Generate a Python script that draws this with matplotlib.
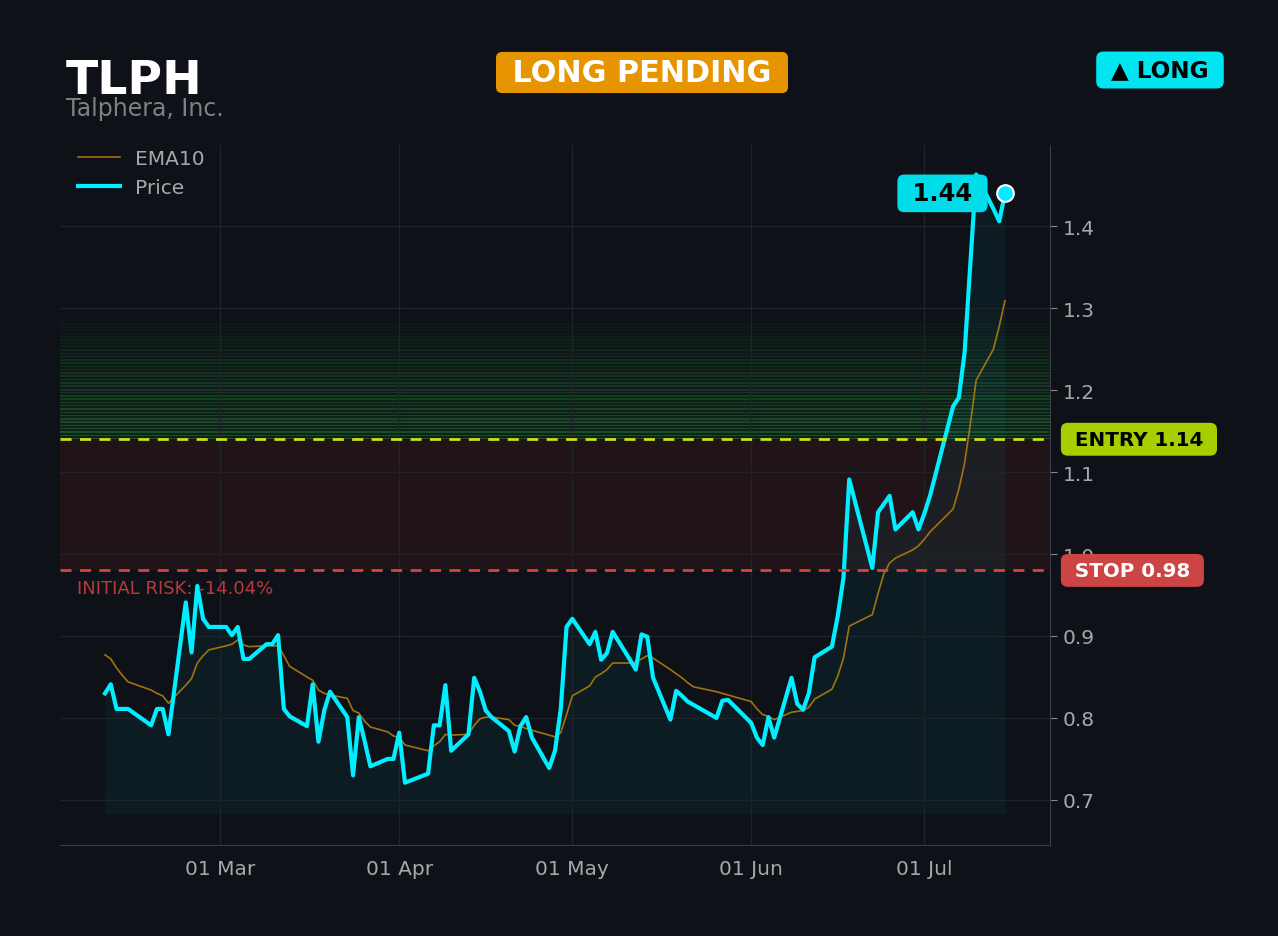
import pandas as pd
import matplotlib.pyplot as plt
import matplotlib.dates as mdates
import matplotlib.transforms as mtransforms

# trading days (US holidays left out)
holidays = ['2026-02-16', '2026-04-03', '2026-05-25', '2026-06-19', '2026-07-03']
dates = pd.bdate_range('2026-02-09', '2026-07-15')
dates = dates[~dates.isin(pd.to_datetime(holidays))]

price = [0.830, 0.841, 0.811, 0.811, 0.811, 0.791, 0.811, 0.811, 0.780, 0.941, 0.880, 0.961, 0.921, 0.911,
         0.911, 0.901, 0.911, 0.872, 0.872, 0.890, 0.890, 0.901, 0.811, 0.802, 0.790, 0.841, 0.771, 0.809,
         0.832, 0.801, 0.730, 0.801, 0.772, 0.741, 0.750, 0.750,
         0.782, 0.721, 0.732, 0.791, 0.791, 0.840, 0.760, 0.780, 0.849, 0.832, 0.809, 0.801, 0.784, 0.759,
         0.790, 0.801, 0.776, 0.739, 0.760, 0.811, 0.911,
         0.921, 0.890, 0.905, 0.871, 0.879, 0.905, 0.871, 0.859, 0.902, 0.899, 0.849, 0.798, 0.833, 0.827,
         0.820, 0.816, 0.800, 0.821, 0.822, 0.815,
         0.794, 0.776, 0.767, 0.801, 0.776, 0.849, 0.817, 0.810, 0.830, 0.874, 0.887, 0.924, 0.971, 1.091,
         0.983, 1.051, 1.061, 1.071, 1.030, 1.051, 1.030,
         1.049, 1.071, 1.180, 1.191, 1.246, 1.355, 1.463, 1.421, 1.406, 1.440]

ema10 = [0.877, 0.872, 0.861, 0.852, 0.844, 0.834, 0.830, 0.827, 0.818, 0.840, 0.848, 0.867, 0.876, 0.883,
         0.888, 0.890, 0.895, 0.889, 0.887, 0.888, 0.888, 0.888, 0.876, 0.863, 0.850, 0.846, 0.834, 0.830,
         0.828, 0.824, 0.809, 0.806, 0.796, 0.789, 0.783, 0.778,
         0.776, 0.767, 0.760, 0.766, 0.771, 0.780, 0.779, 0.780, 0.791, 0.799, 0.801, 0.801, 0.798, 0.791,
         0.790, 0.787, 0.785, 0.779, 0.777, 0.782, 0.804,
         0.827, 0.839, 0.850, 0.854, 0.859, 0.867, 0.867, 0.868, 0.872, 0.876, 0.873, 0.859, 0.854, 0.849,
         0.843, 0.838, 0.832, 0.830, 0.828, 0.826,
         0.820, 0.811, 0.804, 0.802, 0.798, 0.807, 0.808, 0.809, 0.813, 0.823, 0.835, 0.851, 0.873, 0.912,
         0.926, 0.952, 0.976, 0.989, 0.995, 1.005, 1.010,
         1.018, 1.027, 1.055, 1.079, 1.111, 1.159, 1.212, 1.250, 1.278, 1.309]

ticker = 'TLPH'
company = 'Talphera, Inc.'
entry = 1.14
stop = 0.98
target_top = 1.30
fill_base = 0.683
risk_pct = -14.04

bg = '#0e1117'
cyan = '#00eeff'

fig = plt.figure(figsize=(12.78, 9.37), dpi=100, facecolor=bg)
ax = fig.add_axes([60 / 1278, 91 / 937, 990 / 1278, 700 / 937], facecolor=bg)

# risk zone + striped target zone fading upward
ax.axhspan(stop, entry, color='#ff3b3b', alpha=0.08, lw=0)
n = 40
step = (target_top - entry) / n
for i in range(n):
    lo = entry + i * step
    fade = 1 - i / n
    ax.axhspan(lo, lo + step, color='#2ecc40', alpha=0.09 * fade, lw=0)
    ax.axhspan(lo, lo + step * 0.45, color='#2ecc40', alpha=0.28 * fade, lw=0)

ax.fill_between(dates, fill_base, price, color=cyan, alpha=0.05, lw=0)
ax.plot(dates, ema10, color='#b07d0c', lw=1.2, alpha=0.9, label='EMA10')
ax.plot(dates, price, color=cyan, lw=3, label='Price')

ax.axhline(entry, color='#c6e01a', lw=2, ls=(0, (4, 3)))
ax.axhline(stop, color='#d9423f', lw=2, ls=(0, (4, 3)))

ax.plot(dates[-1], price[-1], 'o', ms=12, color=cyan, mec='white', mew=1.5, zorder=5)
ax.annotate(f' {price[-1]:.2f} ', (dates[-1], price[-1]), xytext=(-45, 0), textcoords='offset points',
            ha='center', va='center', fontsize=17.5, fontweight='bold', color='black',
            bbox=dict(boxstyle='round,pad=0.28', fc='#00dde8', ec='none'), zorder=6)

trans = mtransforms.blended_transform_factory(ax.transAxes, ax.transData)
ax.text(1.018, entry, f' ENTRY {entry:.2f} ', transform=trans, ha='left', va='center',
        fontsize=14.3, fontweight='bold', color='black',
        bbox=dict(boxstyle='round,pad=0.35', fc='#a6cf00', ec='none'))
ax.text(1.018, stop, f' STOP {stop:.2f} ', transform=trans, ha='left', va='center',
        fontsize=14.3, fontweight='bold', color='white',
        bbox=dict(boxstyle='round,pad=0.35', fc='#cc4444', ec='none'))
ax.text(0.017, stop - 0.01, f'INITIAL RISK: {risk_pct:.2f}%', transform=trans, ha='left', va='top',
        fontsize=13, color='#b83a3a')

ax.set_ylim(0.645, 1.499)
ax.margins(x=0.05)
ax.yaxis.tick_right()
ax.xaxis.set_major_locator(mdates.MonthLocator(bymonth=[3, 4, 5, 6, 7]))
ax.xaxis.set_major_formatter(mdates.DateFormatter('%d %b'))
ax.tick_params(axis='both', colors='#888888', labelcolor='#a8a8a8', labelsize=14.5)
ax.tick_params(axis='x', length=0, pad=10)
ax.tick_params(axis='y', length=5, pad=4)
ax.grid(True, color='#1f242b', lw=0.9)
for s in ['left', 'top']:
    ax.spines[s].set_visible(False)
for s in ['right', 'bottom']:
    ax.spines[s].set_color('#3a3f45')

leg = ax.legend(loc='upper left', bbox_to_anchor=(0.0, 1.02), frameon=False, fontsize=14.5,
                labelcolor='#a8a8a8', handlelength=2.1, handletextpad=0.7, labelspacing=0.5)

fig.text(66 / 1278, 1 - 81 / 937, ticker, fontsize=34, fontweight='bold', color='white', va='center')
fig.text(66 / 1278, 1 - 109 / 937, company, fontsize=17, color='#808080', va='center')
fig.text(642 / 1278, 1 - 73.5 / 937, ' LONG PENDING ', fontsize=21.8, fontweight='bold', color='white',
         ha='center', va='center', bbox=dict(boxstyle='round,pad=0.2', fc='#e69500', ec='none'))
fig.text(1160 / 1278, 1 - 71 / 937, ' ▲ LONG ', fontsize=16.7, fontweight='bold', color='black',
         ha='center', va='center', bbox=dict(boxstyle='round,pad=0.3', fc='#00e5f0', ec='none'))

fig.savefig('out.png', dpi=100, facecolor=bg)
